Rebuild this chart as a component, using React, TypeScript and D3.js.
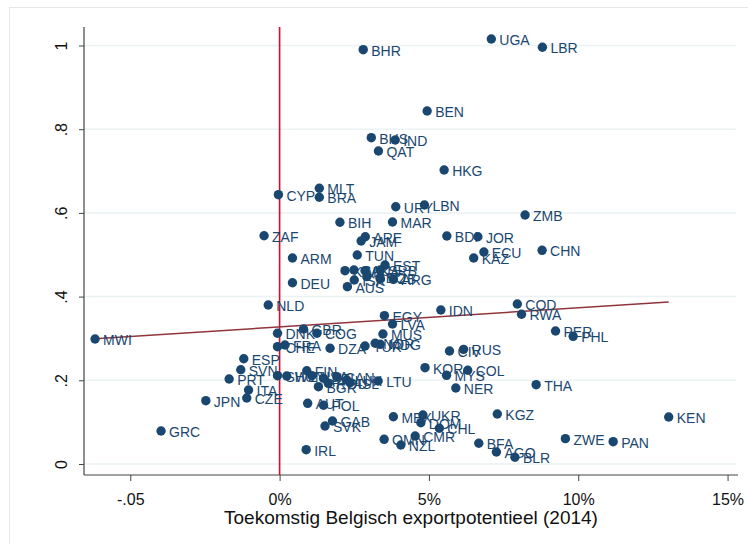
import React, { useEffect, useRef } from 'react';
import * as d3 from 'd3';

// country codes and their position (x: future Belgian export potential, y: index)
const countries = [
  'UGA', 'LBR', 'BHR', 'BEN', 'BHS', 'IND', 'QAT', 'HKG', 'MLT', 'CYP',
  'BRA', 'URY', 'LBN', 'ZMB', 'BIH', 'MAR', 'ZAF', 'ARE', 'JAM', 'BDI',
  'JOR', 'CHN', 'ECU', 'KAZ', 'ARM', 'TUN', 'EST', 'DEU', 'KWT', 'SAU',
  'LKA', 'SRB', 'ISR', 'GEO', 'UZB', 'ARG', 'AUS', 'NLD', 'COD', 'IDN',
  'RWA', 'EGY', 'LVA', 'PER', 'PHL', 'MWI', 'DNK', 'GBR', 'COG', 'MUS',
  'FRA', 'CHE', 'DZA', 'TUR', 'NOR', 'MDG', 'CIV', 'RUS', 'ESP', 'SVN',
  'PRT', 'KOR', 'COL', 'MYS', 'NER', 'THA', 'LTU', 'SWE', 'HUN', 'FIN',
  'USA', 'BEL', 'CAN', 'LUX', 'BGR', 'ROU', 'ISL', 'ITA', 'CZE', 'JPN',
  'AUT', 'POL', 'GAB', 'SVK', 'IRL', 'OMN', 'CMR', 'NZL', 'MEX', 'UKR',
  'DOM', 'CHL', 'KGZ', 'BFA', 'AGO', 'BLR', 'ZWE', 'PAN', 'KEN', 'GRC'
];

const exportPotential = [
  0.0709, 0.0880, 0.0280, 0.0494, 0.0307, 0.0387, 0.0331, 0.0551, 0.0133, -0.0004,
  0.0133, 0.0389, 0.0485, 0.0822, 0.0202, 0.0378, -0.0052, 0.0287, 0.0273, 0.0560,
  0.0664, 0.0879, 0.0684, 0.0650, 0.0043, 0.0260, 0.0353, 0.0043, 0.0219, 0.0249,
  0.0286, 0.0337, 0.0250, 0.0292, 0.0337, 0.0381, 0.0227, -0.0038, 0.0796, 0.0540,
  0.0810, 0.0351, 0.0378, 0.0924, 0.0983, -0.0618, -0.0007, 0.0080, 0.0125, 0.0346,
  0.0018, -0.0007, 0.0169, 0.0286, 0.0320, 0.0337, 0.0569, 0.0616, -0.0120, -0.0130,
  -0.0169, 0.0487, 0.0630, 0.0559, 0.0590, 0.0859, 0.0330, -0.0007, 0.0024, 0.0091,
  0.0108, 0.0147, 0.0192, 0.0225, 0.0130, 0.0163, 0.0236, -0.0104, -0.0110, -0.0247,
  0.0094, 0.0147, 0.0177, 0.0152, 0.0089, 0.0350, 0.0454, 0.0406, 0.0381, 0.0480,
  0.0473, 0.0535, 0.0729, 0.0667, 0.0726, 0.0788, 0.0957, 0.1117, 0.1303, -0.0397
];

const indexValues = [
  1.0155, 0.9957, 0.9900, 0.8435, 0.7797, 0.7742, 0.7480, 0.7025, 0.6588, 0.6435,
  0.6373, 0.6148, 0.6189, 0.5950, 0.5776, 0.5783, 0.5455, 0.5431, 0.5329, 0.5448,
  0.5431, 0.5106, 0.5066, 0.4922, 0.4922, 0.4994, 0.4755, 0.4332, 0.4619, 0.4636,
  0.4619, 0.4636, 0.4397, 0.4476, 0.4437, 0.4420, 0.4237, 0.3799, 0.3823, 0.3680,
  0.3577, 0.3544, 0.3345, 0.3178, 0.3051, 0.2987, 0.3123, 0.3226, 0.3123, 0.3106,
  0.2843, 0.2803, 0.2765, 0.2820, 0.2884, 0.2860, 0.2700, 0.2740, 0.2516, 0.2253,
  0.2031, 0.2301, 0.2239, 0.2119, 0.1816, 0.1895, 0.1983, 0.2110, 0.2103, 0.2229,
  0.2110, 0.2048, 0.2086, 0.2007, 0.1847, 0.1928, 0.1943, 0.1768, 0.1577, 0.1513,
  0.1450, 0.1403, 0.1027, 0.0908, 0.0342, 0.0590, 0.0669, 0.0454, 0.1130, 0.1171,
  0.0987, 0.0853, 0.1195, 0.0495, 0.0287, 0.0160, 0.0605, 0.0533, 0.1123, 0.0789
];

const xTicks = [-0.05, 0, 0.05, 0.1, 0.15];
const xTickLabels = ['-.05', '0%', '5%', '10%', '15%'];
const yTicks = [0, 0.2, 0.4, 0.6, 0.8, 1];
const yTickLabels = ['0', '.2', '.4', '.6', '.8', '1'];

// linear fit line (intercept, slope)
const fitIntercept = 0.3275;
const fitSlope = 0.458;

const navy = '#1a476f';
const font = 'Arial, "Liberation Sans", sans-serif';

const App = () => {
  const svgRef = useRef(null);

  useEffect(() => {
    const svg = d3.select(svgRef.current);
    svg.selectAll('*').remove();

    const left = 84, right = 738, top = 27, bottom = 475;

    const x = d3.scaleLinear().domain([-0.0655, 0.1535]).range([left, right]);
    const y = d3.scaleLinear().domain([-0.0263, 1.0442]).range([bottom, top]);

    // outer graph region frame
    svg.append('rect')
      .attr('x', 9.5).attr('y', 7.5)
      .attr('width', 760).attr('height', 560)
      .attr('fill', 'white')
      .attr('stroke', '#e6e6e6')
      .attr('stroke-width', 1);

    // grid lines
    svg.append('g')
      .selectAll('line')
      .data(yTicks)
      .enter()
      .append('line')
      .attr('x1', left).attr('x2', 736)
      .attr('y1', d => y(d)).attr('y2', d => y(d))
      .attr('stroke', '#eaf2f3')
      .attr('stroke-width', 1.5);

    // y axis
    const yAxis = svg.append('g')
      .attr('transform', `translate(${left},0)`)
      .call(d3.axisLeft(y).tickValues(yTicks).tickSize(5).tickFormat((d, i) => yTickLabels[i]));
    yAxis.select('.domain').attr('d', `M0,${top}V${bottom}`).attr('stroke', '#444').attr('stroke-width', 1.2);
    yAxis.selectAll('line').attr('stroke', '#444');
    yAxis.selectAll('text')
      .attr('x', 0).attr('dy', null)
      .attr('transform', 'translate(-17,0) rotate(-90)')
      .style('text-anchor', 'middle')
      .style('font-family', font)
      .style('font-size', '16px')
      .attr('fill', '#111');

    // x axis
    const xAxis = svg.append('g')
      .attr('transform', `translate(0,${bottom})`)
      .call(d3.axisBottom(x).tickValues(xTicks).tickSize(6).tickFormat((d, i) => xTickLabels[i]));
    xAxis.select('.domain').attr('d', `M${left},0H${right}`).attr('stroke', '#444').attr('stroke-width', 1.2);
    xAxis.selectAll('line').attr('stroke', '#444');
    xAxis.selectAll('text')
      .attr('y', 19)
      .style('font-family', font)
      .style('font-size', '16px')
      .attr('fill', '#111');

    svg.append('text')
      .attr('x', 411)
      .attr('y', 524)
      .attr('text-anchor', 'middle')
      .style('font-family', font)
      .style('font-size', '19px')
      .attr('fill', '#111')
      .text('Toekomstig Belgisch exportpotentieel (2014)');

    // red reference line at x = 0
    svg.append('line')
      .attr('x1', x(0)).attr('x2', x(0))
      .attr('y1', top).attr('y2', bottom)
      .attr('stroke', '#d80c2c')
      .attr('stroke-width', 1.6);

    // fitted line
    const xMin = d3.min(exportPotential);
    const xMax = d3.max(exportPotential);
    svg.append('line')
      .attr('x1', x(xMin)).attr('y1', y(fitIntercept + fitSlope * xMin))
      .attr('x2', x(xMax)).attr('y2', y(fitIntercept + fitSlope * xMax))
      .attr('stroke', '#90353b')
      .attr('stroke-width', 1.5);

    const points = countries.map((c, i) => ({ c, vx: exportPotential[i], vy: indexValues[i] }));

    const pts = svg.append('g');
    pts.selectAll('circle')
      .data(points)
      .enter()
      .append('circle')
      .attr('cx', d => x(d.vx))
      .attr('cy', d => y(d.vy))
      .attr('r', 4.7)
      .attr('fill', navy);

    pts.selectAll('text')
      .data(points)
      .enter()
      .append('text')
      .attr('x', d => x(d.vx) + 8)
      .attr('y', d => y(d.vy) + 6)
      .style('font-family', font)
      .style('font-size', '14px')
      .attr('fill', navy)
      .text(d => d.c);
  }, []);

  return (
    <svg ref={svgRef} width={748} height={544}
      style={{ position: 'absolute', left: 0, top: 0, background: 'white' }} />
  );
};

export default App;
